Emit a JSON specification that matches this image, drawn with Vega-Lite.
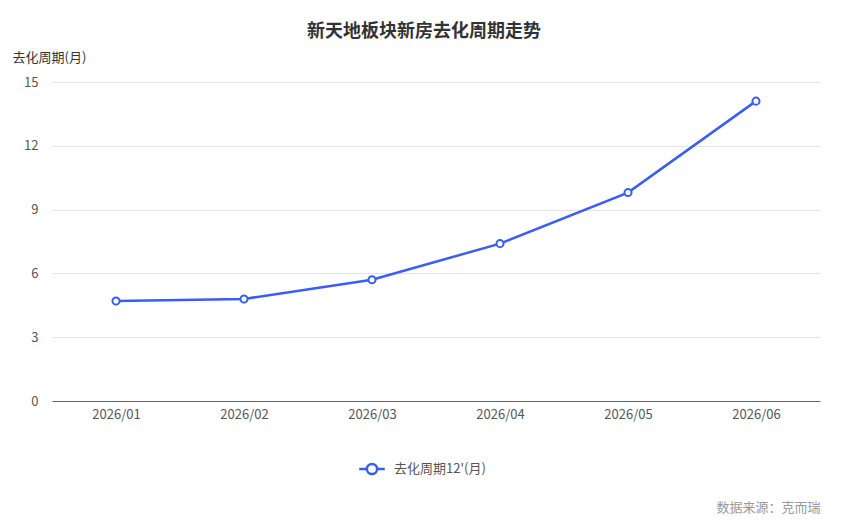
{
  "$schema": "https://vega.github.io/schema/vega-lite/v6.json",
  "width": 768,
  "height": 319,
  "autosize": {"type": "none"},
  "padding": {"left": 52, "top": 82, "right": 29, "bottom": 125},
  "background": "white",
  "config": {
    "font": "Noto Sans CJK SC",
    "view": {"stroke": null}
  },
  "title": {
    "text": "新天地板块新房去化周期走势",
    "fontSize": 18,
    "fontWeight": "bold",
    "color": "#333333",
    "anchor": "middle",
    "dx": -12,
    "offset": 10
  },
  "data": {
    "values": [
      {"month": "2026/01", "value": 4.7, "series": "去化周期12'(月)"},
      {"month": "2026/02", "value": 4.8, "series": "去化周期12'(月)"},
      {"month": "2026/03", "value": 5.7, "series": "去化周期12'(月)"},
      {"month": "2026/04", "value": 7.4, "series": "去化周期12'(月)"},
      {"month": "2026/05", "value": 9.8, "series": "去化周期12'(月)"},
      {"month": "2026/06", "value": 14.1, "series": "去化周期12'(月)"}
    ]
  },
  "mark": {
    "type": "line",
    "strokeWidth": 2.5,
    "point": {"filled": true, "fill": "white", "stroke": "#3a5cf7", "strokeWidth": 2, "size": 50}
  },
  "encoding": {
    "x": {
      "field": "month",
      "type": "ordinal",
      "scale": {"type": "point", "padding": 0.5},
      "axis": {
        "labelAngle": 0,
        "labelColor": "#555555",
        "labelFontSize": 13,
        "labelPadding": 7,
        "domainColor": "#666666",
        "domainWidth": 1,
        "ticks": false,
        "grid": false,
        "title": "数据来源：克而瑞",
        "titleColor": "#999999",
        "titleFontSize": 13,
        "titleFontWeight": "normal",
        "titleAnchor": "end",
        "titleAlign": "right",
        "titleX": 768,
        "titleY": 106,
        "titleBaseline": "middle"
      }
    },
    "y": {
      "field": "value",
      "type": "quantitative",
      "scale": {"domain": [0, 15]},
      "axis": {
        "values": [0, 3, 6, 9, 12, 15],
        "labelColor": "#555555",
        "labelFontSize": 13,
        "labelPadding": 14,
        "domain": false,
        "ticks": false,
        "gridColor": "#e3e3e3",
        "title": "去化周期(月)",
        "titleAngle": 0,
        "titleAlign": "left",
        "titleBaseline": "middle",
        "titleX": -40,
        "titleY": -25,
        "titleColor": "#333333",
        "titleFontSize": 13,
        "titleFontWeight": "normal"
      }
    },
    "stroke": {
      "field": "series",
      "type": "nominal",
      "scale": {"range": ["#3a5cf7"]},
      "legend": {
        "title": null,
        "orient": "none",
        "legendX": 306,
        "legendY": 373,
        "labelColor": "#555555",
        "labelFontSize": 13,
        "labelOffset": 8,
        "symbolType": "M -1 0 L -0.4 0 M 0.4 0 L 1 0 M -0.4 0 A 0.4 0.4 0 1 1 0.4 0 A 0.4 0.4 0 1 1 -0.4 0",
        "symbolSize": 650,
        "symbolStrokeWidth": 2.5,
        "symbolFillColor": "white",
        "encode": {
          "symbols": {
            "update": {"fill": {"value": "white"}}
          }
        }
      }
    }
  }
}
